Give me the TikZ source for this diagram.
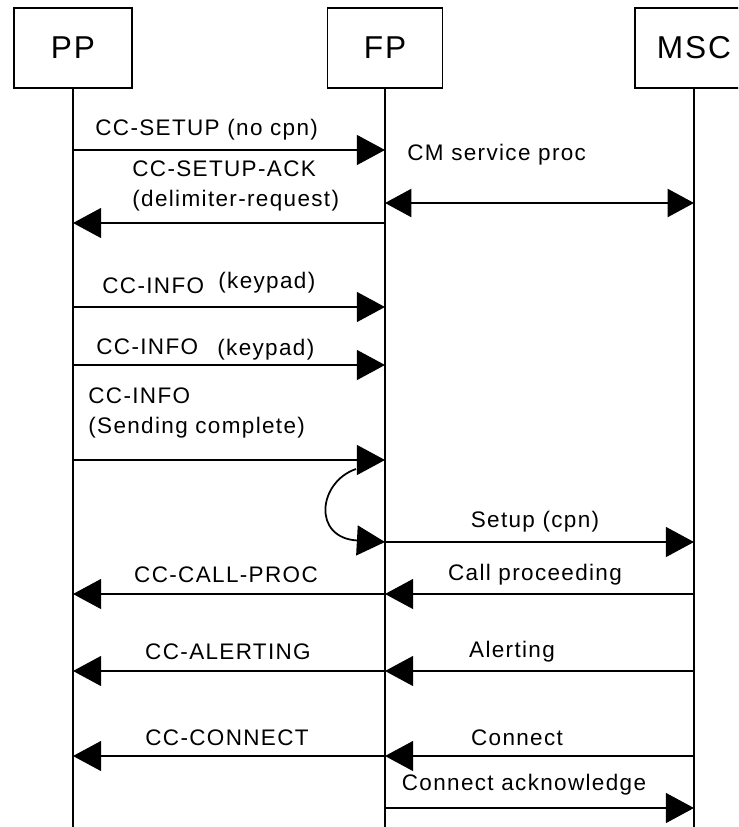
\documentclass[tikz,border=0pt]{standalone}
\usepackage{fontspec}
\setmainfont{Liberation Sans}[LetterSpace=6]
\usetikzlibrary{arrows.meta, positioning}

\tikzset{
  entite/.style={draw, line width=1pt, minimum width=2.36cm, minimum height=1.6cm, font=\fontsize{18}{21}\selectfont},
  vie/.style={line width=1pt},
  msg/.style={line width=1pt, -{Triangle[length=16pt,width=17pt]}},
  msgdouble/.style={line width=1pt, {Triangle[length=15pt,width=16pt]}-{Triangle[length=15pt,width=16pt]}},
  etiq/.style={inner sep=0pt, font=\fontsize{12.8}{16.6}\selectfont}
}

\begin{document}
\begin{tikzpicture}[x=0.02cm, y=-0.02cm]
    \useasboundingbox (0,0) rectangle (738,827);
    \clip (0,0) rectangle (738,827);

    % Boîtes
    \node[entite] (pp) at (73,48) {PP};
    \node[entite, minimum width=2.3cm] (fp) at (385,48) {FP};
    \node[entite] (msc) at (694,48) {MSC};

    % Lignes de vie
    \coordinate (bas) at (0,830);
    \draw[vie] (pp.south) -- (pp |- bas);
    \draw[vie] (fp.south) -- (fp |- bas);
    \draw[vie] (msc.south) -- (msc |- bas);

    % Hauteurs des messages
    \coordinate (m1) at (0,150);
    \coordinate (m2) at (0,223);
    \coordinate (m3) at (0,203);
    \coordinate (m4) at (0,307);
    \coordinate (m5) at (0,365);
    \coordinate (m6) at (0,460);
    \coordinate (m7) at (0,542);
    \coordinate (m8) at (0,594);
    \coordinate (m9) at (0,671);
    \coordinate (m10) at (0,756);
    \coordinate (m11) at (0,808);

    % Messages
    \draw[msg] (pp |- m1) -- (fp |- m1);
    \draw[msg] (fp |- m2) -- (pp |- m2);
    \draw[msgdouble] (fp |- m3) -- (msc |- m3);
    \draw[msg] (pp |- m4) -- (fp |- m4);
    \draw[msg] (pp |- m5) -- (fp |- m5);
    \draw[msg] (pp |- m6) -- (fp |- m6);
    \coordinate (boucle) at (356,469);
    \draw[msg] (boucle) .. controls (318,482) and (312,538) .. (fp |- m7);
    \draw[msg] (fp |- m7) -- (msc |- m7);
    \draw[msg] (msc |- m8) -- (fp |- m8);
    \draw[msg] (fp |- m8) -- (pp |- m8);
    \draw[msg] (msc |- m9) -- (fp |- m9);
    \draw[msg] (fp |- m9) -- (pp |- m9);
    \draw[msg] (msc |- m10) -- (fp |- m10);
    \draw[msg] (fp |- m10) -- (pp |- m10);
    \draw[msg] (fp |- m11) -- (msc |- m11);

    % Labels
    \node[etiq, anchor=west] (setup) at (95,130) {CC-SETUP (no cpn)};
    \node[etiq, anchor=west, align=left] (setupack) at (132,186) {CC-SETUP-ACK\\(delimiter-request)};
    \node[etiq, anchor=west] (cmserv) at (407,155) {CM service proc};
    \node[etiq, anchor=west] (info1) at (102,286) {CC-INFO};
    \node[etiq, anchor=west] (keypad1) at (218,283) {(keypad)};
    \node[etiq, anchor=west] (info2) at (96,347) {CC-INFO};
    \node[etiq, anchor=west] (keypad2) at (217,350) {(keypad)};
    \node[etiq, anchor=west, align=left] (info3) at (88,413) {CC-INFO\\(Sending complete)};
    \node[etiq] (setupcpn) at (535,522) {Setup (cpn)};
    \node[etiq] (callproc) at (535,575) {Call proceeding};
    \node[etiq] (cccallproc) at (226,575) {CC-CALL-PROC};
    \node[etiq] (alerting) at (512,652) {Alerting};
    \node[etiq] (ccalerting) at (228,652) {CC-ALERTING};
    \node[etiq] (connect) at (517,738) {Connect};
    \node[etiq] (ccconnect) at (227,738) {CC-CONNECT};
    \node[etiq] (connectack) at (524,785) {Connect acknowledge};
\end{tikzpicture}
\end{document}
